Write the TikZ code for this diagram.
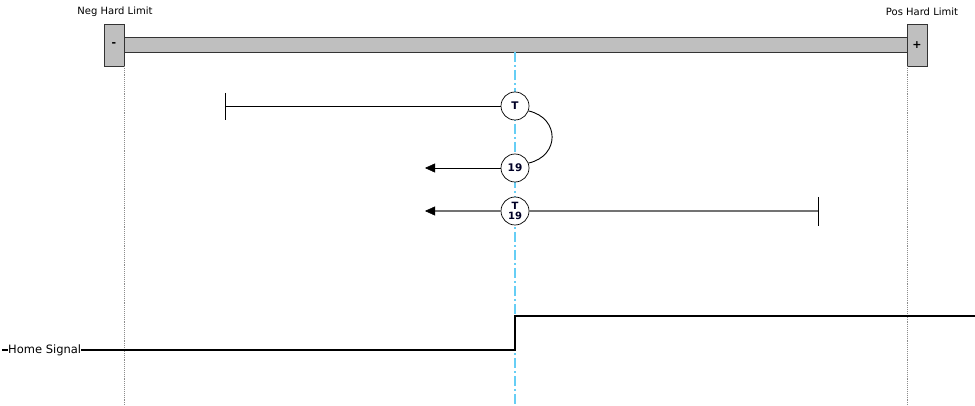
\documentclass[tikz,border=0pt]{standalone}
\usepackage{fontspec}
\setmainfont{DejaVu Sans}
\usetikzlibrary{arrows.meta}
\begin{document}
\begin{tikzpicture}[x=1pt,y=-1pt,
  lbl/.style={font=\fontsize{10}{11}\selectfont, inner sep=0pt},
  limbox/.style={draw=black!80, fill=black!25, line width=0.9pt, minimum width=20pt, minimum height=42pt, inner sep=0pt, font=\fontsize{11}{12}\selectfont\bfseries},
  bar/.style={draw=black!80, fill=black!25, line width=0.9pt},
  evt/.style={circle, draw, fill=white, minimum size=28pt, inner sep=0pt, line width=0.7pt, font=\fontsize{10.5}{11}\selectfont\bfseries, text=black!85!blue},
  mv/.style={line width=0.9pt},
  arr/.style={line width=0.9pt, -{Triangle[length=10pt,width=9pt,color=black,fill=black,line width=0.5pt]}},
  sig/.style={line width=1.7pt}
]
\useasboundingbox (0,0) rectangle (975,406);
% bar
\draw[bar] (124,37) rectangle (907,52);
\node[limbox] (neg) at (114,45) {-};
\node[limbox] (pos) at (917,45) {+};
\node[lbl] (negl) at (115,12) {Neg Hard Limit};
\node[lbl] (posl) at (922,12) {Pos Hard Limit};
% dotted limit lines
\coordinate (nd1) at (124,66); \coordinate (nd2) at (124,406);
\coordinate (pd1) at (907,66); \coordinate (pd2) at (907,406);
\draw[black!45, densely dotted, line width=0.9pt] (nd1) -- (nd2);
\draw[black!45, densely dotted, line width=0.9pt] (pd1) -- (pd2);
% home position dash-dot
\coordinate (h1) at (515,52); \coordinate (h2) at (515,406);
\draw[cyan!60!white, line width=1.5pt, dash pattern=on 10pt off 3pt on 2pt off 3pt] (h1) -- (h2);
% row 1
\coordinate (s1) at (225,106);
\coordinate (s1a) at (225,93); \coordinate (s1b) at (225,120);
\draw[mv] (s1a) -- (s1b);
\node[evt] (t1) at (515,106) {T};
\draw[mv] (s1) -- (t1);
% row 2
\node[evt] (n19) at (515,168) {19};
\coordinate (e2) at (425,168);
\draw[arr] (n19) -- (e2);
\draw[mv] (t1.-20) .. controls (560,118) and (560,156) .. (n19.20);
% row 3
\node[evt, align=center, font=\fontsize{10}{10.5}\selectfont\bfseries] (n3) at (515,211) {T\\19};
\coordinate (e3) at (425,211);
\coordinate (s3) at (818,211);
\coordinate (s3a) at (818,197); \coordinate (s3b) at (818,226);
\draw[line width=1.5pt, black!55] (n3) -- (s3);
\draw[arr, line width=1.5pt, black!55] (n3) -- (e3);
\draw[mv] (s3a) -- (s3b);
% home signal
\node[lbl, anchor=west, font=\fontsize{11.5}{12}\selectfont] (hs) at (8,350) {Home Signal};
\coordinate (hs0) at (2,350);
\coordinate (p1) at (515,350); \coordinate (p2) at (515,316); \coordinate (p3) at (975,316);
\draw[sig] (hs0) -- (hs.west);
\draw[sig] (hs.east) -- (p1) -- (p2) -- (p3);
\end{tikzpicture}
\end{document}
